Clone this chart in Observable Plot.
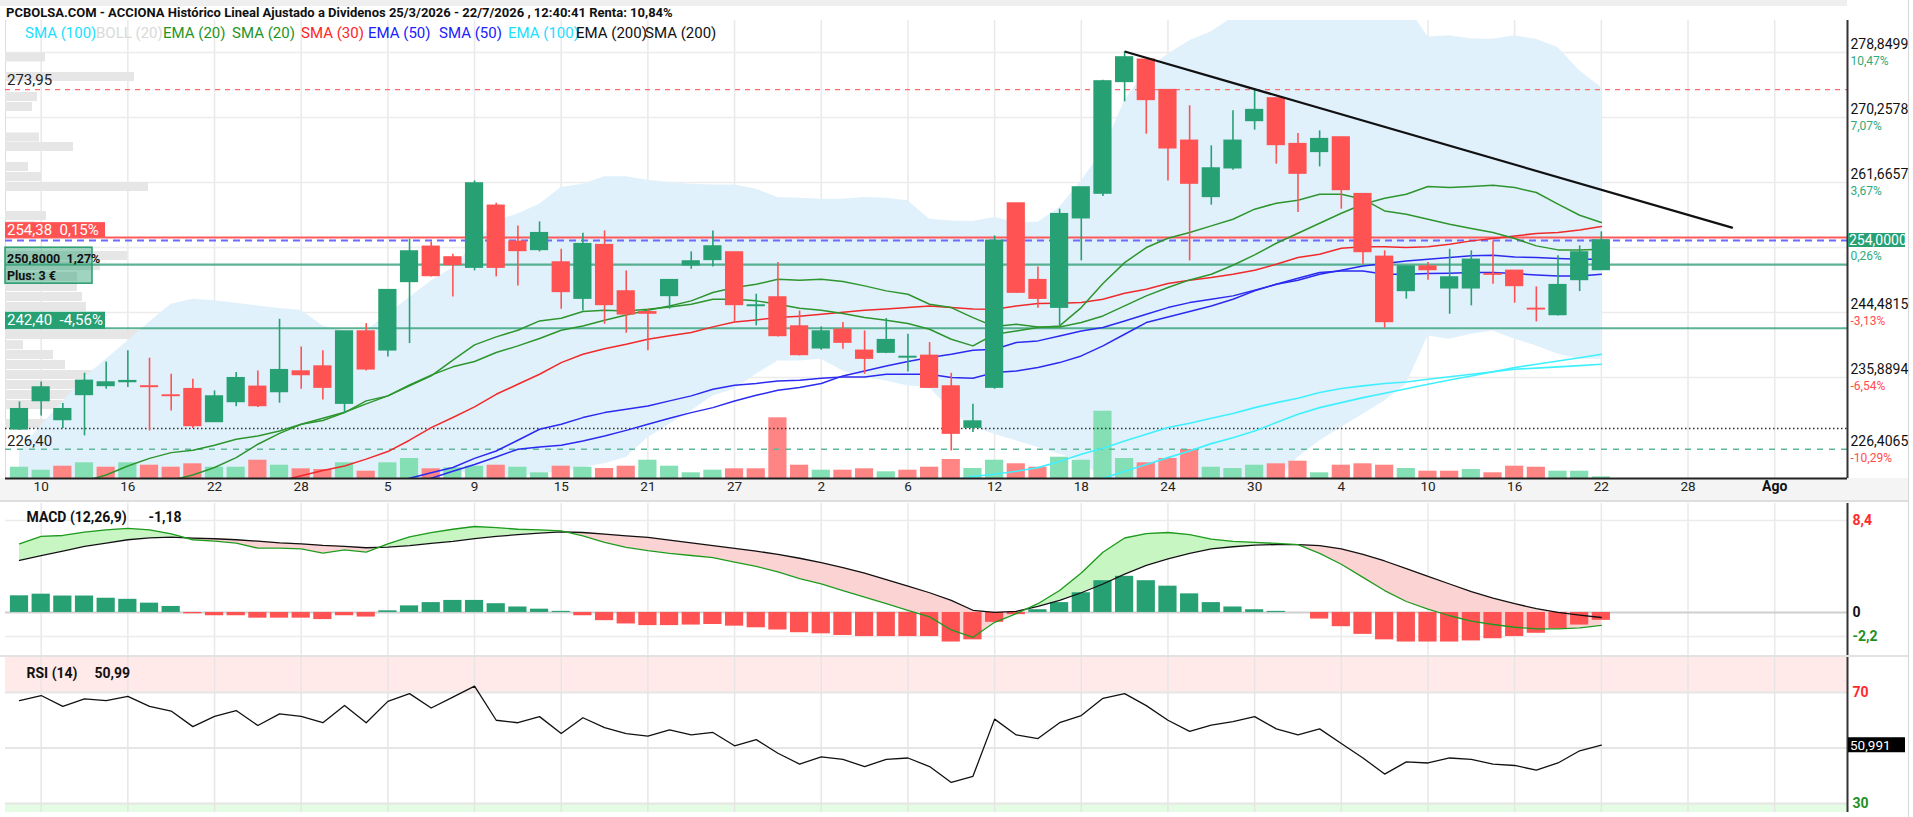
<!DOCTYPE html>
<html>
<head>
<meta charset="utf-8">
<script src="https://cdn.jsdelivr.net/npm/d3@7"></script>
<script src="https://cdn.jsdelivr.net/npm/@observablehq/plot@0.6"></script>
<style>
html,body{margin:0;padding:0;background:#fff;}
body{width:1913px;height:817px;overflow:hidden;font-family:Roboto,"Liberation Sans",Arial,sans-serif;}
#wrap{position:relative;width:1913px;height:817px;overflow:hidden;}
.abs{position:absolute;white-space:nowrap;}
.abs svg{display:block;}
</style>
</head>
<body>
<div id="wrap"></div>
<script>
// ---------------- DATA ----------------
const opens = [229.05,232.79,230.28,233.59,234.78,235.3,234.7,233.5,234.34,230.02,
  232.66,234.65,233.98,236.67,237.33,232.44,241.96,239.49,248.53,253.16,
  251.75,250.42,258.58,253.82,252.76,251.08,246.32,253.38,247.25,244.5,
  246.68,250.73,251.44,252.41,245.35,246.46,242.62,239.76,242.18,239.41,
  239.19,238.55,238.74,234.69,229.27,234.56,258.88,248.75,245.13,256.95,
  260.21,274.97,277.88,273.87,267.17,259.77,263.56,269.81,272.77,266.73,
  265.72,267.61,260.12,251.83,247.34,250.55,247.69,247.69,249.55,249.98,
  244.95,244.16,248.79,250.11];
const highs = [232.66,235.31,232.44,236.45,237.95,239.41,238.44,236.32,235.66,234.12,
  236.54,236.76,243.59,239.93,239.41,241.96,243.02,247.5,254.17,253.82,
  252.19,261.88,258.93,255.93,256.46,252.85,254.96,255.27,249.98,244.91,
  248.75,252.49,255.27,252.41,246.9,251.08,244.69,242.58,243.15,242.05,
  243.68,241.61,240.51,236.45,232.35,254.61,258.88,250.51,258.14,261.0,
  275.19,278.94,277.9,273.9,271.8,266.51,271.14,273.87,272.8,268.14,
  268.49,267.65,260.2,252.63,250.55,251.08,252.85,252.63,253.95,249.98,
  247.87,251.97,253.29,255.14];
const lows = [228.9,230.81,229.14,228.17,234.34,234.56,228.83,231.47,229.14,229.95,
  232.04,231.91,232.49,234.34,232.93,231.12,236.76,238.61,240.37,249.19,
  246.54,249.98,249.19,248.0,252.49,244.91,244.69,242.93,241.74,239.41,
  244.91,250.2,250.51,243.15,242.71,241.26,238.74,239.49,239.63,236.32,
  239.05,236.63,234.43,226.18,228.61,234.34,247.0,245.05,242.71,251.3,
  259.81,272.33,268.05,261.88,251.3,258.67,263.29,268.58,264.09,257.69,
  263.73,258.14,250.86,242.4,246.24,248.75,244.25,245.36,248.22,245.71,
  243.24,244.03,247.25,250.1];
const closes = [231.69,234.56,231.69,235.44,235.22,235.4,234.65,233.46,229.49,233.37,
  235.79,232.13,236.85,236.23,234.56,241.96,236.98,247.43,252.54,249.32,
  250.78,261.53,250.42,252.63,254.96,247.21,253.51,245.49,244.25,244.35,
  248.75,251.22,253.2,245.49,245.4,241.39,238.88,241.96,240.51,238.39,
  240.82,238.6,234.56,228.48,230.06,253.95,247.12,246.32,257.47,261.0,
  275.02,278.19,272.59,266.2,261.53,263.51,267.17,271.23,266.64,262.85,
  267.39,260.69,252.49,243.24,250.55,250.11,249.1,251.44,249.5,248.0,
  244.91,248.09,252.41,254.0];
const volume = [11.3,8.3,12.3,15.7,11.3,15.7,13.3,11.3,14.7,11.3,
  11.3,18.3,13.3,9.7,9,15.7,7.3,15.7,20,9.7,
  10.7,12.3,13.3,11.3,5.7,12.3,11.3,10,12.3,18.3,
  12.3,5.7,8.3,9.7,9.7,60.7,13.3,8.3,8.3,9.7,
  6.7,8.3,11.3,19,10,18.3,14.7,11.3,21.3,18.3,
  67.3,20,15.7,20,29,11.3,10,13.3,14.7,17.3,
  5.7,13.3,14.7,13.3,10,7.3,7.3,9,5.7,12.3,
  11.3,7.3,7.3,1.7];
const ema20 = [217.5,218.3,219.0,219.8,220.5,221.1,221.7,222.3,223.0,224.0,
  225.3,227.07,228.5,229.7,230.5,231.3,232.4,233.46,234.8,236.1,
  238.2,240.2,241.26,242.14,243.37,243.72,244.61,244.78,244.69,244.91,
  245.22,245.58,246.24,246.24,246.02,245.58,245.05,244.78,244.34,243.81,
  243.46,243.02,242.27,240.95,240.07,241.61,242.05,242.49,242.71,245.13,
  248.31,251.08,253.07,254.3,255.05,255.93,256.81,258.14,258.93,259.33,
  260.12,260.12,259.46,257.91,257.47,256.81,256.15,255.58,255.05,254.26,
  253.29,252.76,252.76,252.85];
const sma20 = [220.0,220.7,221.4,222.2,223.0,224.2,225.2,225.96,226.27,226.93,
  227.72,228.17,228.83,229.7,230.2,231.25,232.8,233.46,234.9,236.2,
  237.3,238.0,239.19,240.07,241.04,242.14,242.71,243.46,244.16,244.78,
  245.35,246.02,247.12,247.78,248.22,248.88,248.75,248.88,248.57,248.0,
  247.34,246.9,245.58,245.13,243.81,242.62,242.93,242.58,242.58,243.15,
  244.03,245.35,246.68,247.78,248.79,249.54,250.73,252.1,253.64,254.96,
  256.28,257.6,258.8,259.59,260.12,261.13,261.0,261.13,261.31,261.0,
  260.34,258.8,257.34,256.37];
const sma30 = [214.5,215.2,215.9,216.6,217.3,218.0,218.6,219.2,219.8,220.4,
  221.0,221.6,222.2,222.9,223.6,224.2,225.1,226.1,227.6,229.27,
  230.6,232.0,233.67,235.0,236.32,237.86,238.97,239.7,240.29,240.95,
  241.4,241.83,242.58,243.24,243.5,243.81,244.0,244.25,244.5,244.78,
  244.95,245.13,245.35,245.13,244.95,244.91,245.35,245.66,245.72,245.79,
  246.24,247.03,247.56,248.31,248.75,249.1,249.54,250.07,250.86,251.75,
  252.19,252.98,253.16,253.16,253.07,253.16,253.51,253.95,254.26,254.61,
  254.92,255.05,255.4,255.84];
const sma50 = [null,null,null,null,null,null,null,null,null,null,
  null,null,null,null,null,null,null,222.0,222.57,223.3,
  224.0,225.2,226.18,227.6,229.05,229.71,230.59,231.25,231.7,232.13,
  232.8,233.46,234.34,234.87,235.09,235.44,235.53,235.79,235.97,235.97,
  236.32,236.32,236.32,235.88,235.79,236.54,236.76,237.2,237.86,238.74,
  240.07,241.61,243.15,243.9,244.61,245.35,246.24,247.34,248.22,249.01,
  249.76,249.98,249.98,249.54,249.54,249.63,249.68,249.76,249.76,249.63,
  249.45,249.32,249.32,249.54];
const ema50 = [null,null,null,null,null,null,null,null,null,null,
  null,null,null,null,null,null,null,null,222.0,222.57,
  223.5,224.4,225.39,226.4,226.7,226.93,227.51,228.17,228.9,229.71,
  230.5,231.25,231.91,232.79,233.54,234.2,234.56,235.09,236.1,236.76,
  237.42,238.0,238.52,238.97,239.49,239.63,240.51,240.73,241.39,242.05,
  242.49,243.37,244.25,245.13,245.79,246.24,246.68,247.43,248.22,248.75,
  249.54,250.07,250.64,250.95,251.3,251.52,251.75,251.97,252.05,251.83,
  251.75,251.61,251.52,251.52];
const sma100 = [null,null,null,null,null,null,null,null,null,null,
  null,null,null,null,null,null,null,null,null,null,
  null,null,null,null,null,null,null,null,null,null,
  null,null,null,null,null,null,null,null,null,null,
  null,null,null,222.3,222.8,223.1,223.5,223.98,224.8,225.74,
  226.54,227.51,228.39,229.27,229.84,230.5,231.12,231.91,232.57,233.15,
  233.9,234.43,234.78,235.09,235.3,235.66,236.0,236.32,236.65,236.98,
  237.13,237.29,237.46,237.64];
const ema100 = [null,null,null,null,null,null,null,null,null,null,
  null,null,null,null,null,null,null,null,null,null,
  null,null,null,null,null,null,null,null,null,null,
  null,null,null,null,null,null,null,null,null,null,
  null,null,null,null,null,null,null,null,null,221.8,
  222.57,223.5,224.4,225.3,226.18,227.15,227.94,228.83,229.93,231.03,
  231.91,232.57,233.23,233.8,234.4,235.0,235.55,236.1,236.65,237.2,
  237.65,238.08,238.5,238.97];
const bbUpper = [226.18,229.5,232.7,235.88,238.3,240.73,243.2,245.58,246.24,246.02,
  245.7,245.35,245.0,244.78,242.71,242.05,242.05,244.25,246.46,248.66,
  250.4,253.5,256.59,257.5,258.8,261.0,261.44,262.41,262.41,261.97,
  261.66,261.44,261.35,261.35,260.78,259.68,259.59,259.46,259.46,259.68,
  259.59,259.24,256.81,256.59,256.5,257.03,256.37,256.4,258.36,261.88,
  265.85,272.46,276.43,278.63,280.4,281.6,283.5,284.7,285.3,284.6,
  285.1,285.9,286.6,286.4,285.2,280.9,281.05,280.65,280.6,281.05,
  280.6,279.5,276.43,274.22];
const bbLower = [213.8,213.5,213.0,212.5,212.0,211.5,211.0,210.5,210.5,211.0,
  211.5,212.0,212.5,213.5,217.5,219.5,221.5,221.0,221.5,222.0,
  224.2,222.5,221.8,222.6,223.3,223.3,224.0,224.5,225.3,227.94,
  229.71,231.47,233.46,234.34,236.32,238.08,238.08,238.3,236.76,235.88,
  235.44,234.78,234.56,231.47,229.27,228.39,227.51,226.63,225.74,224.86,
  222.5,218.2,216.9,216.9,217.2,217.5,218.0,219.5,222.0,225.3,
  227.5,229.27,231.03,232.79,235.0,241.39,240.95,241.61,242.05,240.95,
  240.07,238.97,238.3,238.3];
const macdLine = [6.27,6.94,7.03,7.33,7.55,7.67,7.55,7.18,6.64,6.51,
  6.33,5.87,5.87,5.81,5.42,5.72,5.51,6.27,6.9,7.3,
  7.6,7.85,7.75,7.6,7.55,7.45,7.0,6.4,5.95,5.65,
  5.4,5.2,5.0,4.6,4.2,3.7,3.1,2.6,2.0,1.4,
  0.8,0.2,-0.4,-1.6,-2.27,-0.9,-0.1,0.8,2.0,3.6,
  5.5,6.8,7.2,7.3,7.1,6.7,6.5,6.4,6.3,6.2,
  5.4,4.4,3.2,2.0,1.0,0.3,-0.3,-0.8,-1.1,-1.35,
  -1.5,-1.5,-1.4,-1.18];
const macdSignal = [4.75,5.2,5.6,6.03,6.33,6.64,6.82,6.88,6.79,6.73,
  6.64,6.51,6.36,6.27,6.12,6.03,5.91,5.97,6.1,6.3,
  6.5,6.75,6.95,7.1,7.25,7.35,7.3,7.15,7.0,6.85,
  6.6,6.35,6.1,5.85,5.6,5.3,4.95,4.55,4.1,3.6,
  3.0,2.4,1.8,1.1,0.2,0.0,0.1,0.55,1.1,1.8,
  2.6,3.5,4.3,4.9,5.4,5.8,6.0,6.15,6.2,6.2,
  6.1,5.8,5.3,4.7,4.0,3.3,2.6,1.9,1.3,0.8,
  0.35,0.0,-0.25,-0.46];
const macdHist = [1.52,1.67,1.5,1.5,1.3,1.2,0.85,0.55,-0.12,-0.3,
  -0.3,-0.52,-0.52,-0.52,-0.65,-0.3,-0.42,0.15,0.6,0.9,
  1.1,1.1,0.8,0.5,0.3,0.1,-0.3,-0.75,-1.05,-1.2,
  -1.2,-1.15,-1.1,-1.25,-1.4,-1.6,-1.85,-1.95,-2.1,-2.2,
  -2.2,-2.2,-2.2,-2.7,-2.5,-0.9,-0.2,0.25,0.9,1.8,
  2.9,3.3,2.9,2.4,1.7,0.9,0.5,0.25,0.1,0.0,
  -0.6,-1.3,-2.0,-2.5,-2.7,-2.7,-2.7,-2.6,-2.4,-2.2,
  -1.9,-1.5,-1.15,-0.72];
const rsi = [67.1,68.9,65.0,67.7,67.1,68.6,65.0,63.3,57.7,61.4,
  63.5,58.1,62.3,61.4,59.1,65.3,59.1,66.8,69.6,64.4,
  68.3,72.3,60.0,59.1,61.3,55.2,60.9,57.35,55.2,54.3,
  56.5,54.7,55.6,50.8,53.0,48.1,44.2,46.8,45.9,43.3,
  45.9,46.4,43.3,37.6,39.8,60.4,54.7,53.4,59.1,61.7,
  67.9,69.6,65.25,60.0,56.0,58.2,59.5,61.3,56.9,54.7,
  56.9,51.6,46.4,40.6,45.0,44.6,46.4,45.9,44.2,43.7,
  42.0,44.6,49.0,50.99];
// volume-profile (left side): price levels and lengths
const profPrice = [278.19,275.61,272.97,271.65,267.61,266.36,263.72,262.39,261.07,257.24,255.9,
  251.95,250.63,249.18,247.85,246.53,245.2,243.88,241.5,240.17,238.86,237.54,236.22,234.89,233.57,232.25,229.74];
const profVol = [40,129,32,27,34,68,23,36,143,41,30,122,95,72,72,77,81,60,184,18,48,60,97,116,81,81,48];
// axis ticks / labels
const tickIndex = [1,5,9,13,17,21,25,29,33,37,41,45,49,53,57,61,65,69,73,77,81];
const tickLabels = ["10","16","22","28","5","9","15","21","27","2","6","12","18","24","30","4","10","16","22","28","Ago"];
const axisPrices = [278.8499,270.2578,261.6657,253.0736,244.4815,235.8894,226.4065];
const axisPriceText = ["278,8499","270,2578","261,6657",null,"244,4815","235,8894","226,4065"];
const axisPctText = ["10,47%","7,07%","3,67%","0,26%","-3,13%","-6,54%","-10,29%"];
const gridPrices = [278.8499,270.2578,261.6657,253.0736,244.4815,235.8894];
const levelPrices = {resist: 273.95, prevRef: 254.38, last: 254.0, buy: 250.80, stop: 242.40, dotted: 229.15, support: 226.40};
const trendIdx = [51.04, 79.03];
const trendPrice = [278.95, 255.7];
const legendNames = ["SMA (100)","BOLL (20)","EMA (20)","SMA (20)","SMA (30)","EMA (50)","SMA (50)","EMA (100)","EMA (200)","SMA (200)"];
const legendColors = ["#19e0ff","#d9d9d9","#1f951f","#1f951f","#ff2424","#2020ff","#2020ff","#19e0ff","#111","#111"];
const titleText = "PCBOLSA.COM - ACCIONA Histórico Lineal Ajustado a Dividenos 25/3/2026 - 22/7/2026 , 12:40:41 Renta: 10,84%";

// ---------------- LAYOUT ----------------
const FONT = "Roboto, 'Liberation Sans', Arial, sans-serif";
const GREEN = "#27a074", RED = "#ff5252";
const W = 1913, ML = 5, MR = 66;
const X0 = -0.646, X1 = 84.36;
const Y0 = 222.54, Y1 = 283.08;
const MH = 500, MT = 20, MB = 22;
const innerH = MH - MT - MB;
const pxW = (W - ML - MR) / (X1 - X0);
const pricePerPx = (Y1 - Y0) / innerH;
const v2p = v => Y0 + v * pricePerPx;
const N = closes.length;
const idx = d3.range(N);
const candles = idx.map(i => ({i, o: opens[i], h: highs[i], l: lows[i], c: closes[i], v: volume[i],
  up: closes[i] >= opens[i], vUp: i === 0 || closes[i] >= closes[i - 1]}));
const HB = 0.42;

const wrap = document.getElementById("wrap");
function addDiv(style, html) {
  const d = document.createElement("div"); d.className = "abs";
  Object.assign(d.style, style); if (html != null) d.innerHTML = html;
  wrap.appendChild(d); return d;
}
addDiv({left:"0px", top:"0px", width:"1847px", height:"6px", background:"#efefef"});
addDiv({left:"0px", top:"478px", width:"1908px", height:"22px", background:"#f4f4f4"});
addDiv({left:"0px", top:"500px", width:"1908px", height:"2px", background:"#dedede"});
addDiv({left:"0px", top:"655px", width:"1908px", height:"2px", background:"#e2e2e2"});
addDiv({left:"1908px", top:"0px", width:"1px", height:"817px", background:"#d8d8d8"});

function lineMark(arr, color, w) {
  return Plot.line(idx.filter(i => arr[i] != null), {x: i => i, y: i => arr[i], stroke: color, strokeWidth: w || 1.5, clip: true});
}
function gStart() {
  return d3.create("svg:g").attr("font-family", FONT).attr("text-anchor", "start");
}

function leftLabels(index, scales, values, dims) {
  const y = scales.y, L = dims.marginLeft;
  const g = gStart();
  g.append("text").attr("x", L + 2).attr("y", y(levelPrices.resist) - 4).attr("font-size", 15).attr("fill", "#222").text("273,95");
  const yr = y(levelPrices.prevRef);
  g.append("rect").attr("x", L).attr("y", yr - 15).attr("width", 100).attr("height", 15).attr("fill", "#ff5252");
  g.append("text").attr("x", L + 2).attr("y", yr - 2.5).attr("font-size", 15).attr("fill", "#fff").attr("xml:space","preserve").text("254,38  0,15%");
  const yb = y(levelPrices.buy);
  g.append("rect").attr("x", L).attr("y", yb - 17).attr("width", 87).attr("height", 36).attr("fill", "rgba(39,160,116,0.45)").attr("stroke", "#2a9d70").attr("stroke-width", 1.5);
  g.append("text").attr("x", L + 2).attr("y", yb - 1).attr("font-size", 12.5).attr("font-weight", "bold").attr("fill", "#111").attr("xml:space","preserve").text("250,8000  1,27%");
  g.append("text").attr("x", L + 2).attr("y", yb + 16).attr("font-size", 12.5).attr("font-weight", "bold").attr("fill", "#111").text("Plus: 3 €");
  const ys = y(levelPrices.stop);
  g.append("rect").attr("x", L).attr("y", ys - 16).attr("width", 100).attr("height", 17).attr("fill", "#27a074");
  g.append("text").attr("x", L + 2).attr("y", ys - 2.5).attr("font-size", 15).attr("fill", "#fff").attr("xml:space","preserve").text("242,40  -4,56%");
  g.append("text").attr("x", L + 2).attr("y", y(levelPrices.support) - 3).attr("font-size", 15).attr("fill", "#222").text("226,40");
  return g.node();
}
function lastPriceBox(index, scales, values, dims) {
  const y = scales.y, R = dims.width - dims.marginRight;
  const g = gStart();
  const yl = y(levelPrices.last);
  g.append("rect").attr("x", R + 1).attr("y", yl - 7).attr("width", 57).attr("height", 14).attr("fill", GREEN);
  g.append("text").attr("x", R + 2).attr("y", yl + 5).attr("font-size", 14).attr("fill", "#fff").text("254,0000");
  return g.node();
}

const axIdx = d3.range(axisPrices.length);
const main = Plot.plot({
  width: W, height: MH, marginTop: MT, marginBottom: MB, marginLeft: ML, marginRight: MR,
  style: {background: "transparent", overflow: "visible", fontFamily: FONT},
  x: {domain: [X0, X1], axis: null},
  y: {domain: [Y0, Y1], axis: null},
  marks: [
    Plot.ruleX(tickIndex, {stroke: "#e9e9e9", strokeWidth: 1.5}),
    Plot.ruleY(gridPrices, {stroke: "#ececec", strokeWidth: 1.5}),
    Plot.ruleX([X0], {stroke: "#dddddd"}),
    Plot.rect(d3.range(profPrice.length), {x1: () => X0, x2: k => X0 + profVol[k] / pxW,
      y1: k => profPrice[k] - 4.5 * pricePerPx, y2: k => profPrice[k] + 4.5 * pricePerPx, fill: "#e6e6e6"}),
    Plot.areaY(idx, {x: i => i, y1: i => bbLower[i], y2: i => bbUpper[i], fill: "#e1f1fc", clip: true}),
    Plot.rect(candles, {x1: d => d.i - HB, x2: d => d.i + HB, y1: () => Y0, y2: d => v2p(d.v), fill: d => d.vUp ? "#84e0b4" : "#ff8585"}),
    Plot.ruleY([levelPrices.resist], {stroke: "#ff6b6b", strokeDasharray: "5,5", strokeWidth: 1.3}),
    Plot.ruleY([levelPrices.prevRef], {stroke: "#ff5a5a", strokeWidth: 2}),
    Plot.ruleY([levelPrices.last], {stroke: "#6a6aff", strokeDasharray: "7,5", strokeWidth: 2}),
    Plot.ruleY([levelPrices.buy], {stroke: "#3fa57f", strokeWidth: 2.2, strokeOpacity: 0.85}),
    Plot.ruleY([levelPrices.stop], {stroke: "#3fa57f", strokeWidth: 2.2, strokeOpacity: 0.85}),
    Plot.ruleY([levelPrices.dotted], {stroke: "#333", strokeDasharray: "1.5,2.5", strokeWidth: 1.5}),
    Plot.ruleY([levelPrices.support], {stroke: "#5fb89a", strokeDasharray: "6,6", strokeWidth: 1.5}),
    lineMark(sma100, "#3ff0ff", 1.6),
    lineMark(ema100, "#3ff0ff", 1.6),
    lineMark(sma50, "#2a2af0", 1.5),
    lineMark(ema50, "#2a2af0", 1.5),
    lineMark(sma30, "#f02a2a", 1.5),
    lineMark(sma20, "#2d952d", 1.5),
    lineMark(ema20, "#2d952d", 1.5),
    Plot.ruleX(candles, {x: "i", y1: "l", y2: "h", stroke: d => d.up ? GREEN : RED, strokeWidth: 1.6}),
    Plot.rect(candles, {x1: d => d.i - HB, x2: d => d.i + HB, y1: d => Math.min(d.o, d.c), y2: d => Math.max(d.o, d.c),
      fill: d => d.up ? GREEN : RED, insetTop: -0.8, insetBottom: -0.8}),
    Plot.line(d3.range(2), {x: k => trendIdx[k], y: k => trendPrice[k], stroke: "#111", strokeWidth: 2.2}),
    leftLabels,
    Plot.ruleY([Y0], {stroke: "#222", strokeWidth: 2}),
    Plot.ruleX([X1], {stroke: "#333", strokeWidth: 2}),
    Plot.text(axIdx.filter(k => axisPriceText[k]), {x: () => X1, y: k => axisPrices[k], text: k => axisPriceText[k],
      dx: 3, dy: -8, textAnchor: "start", fontSize: 14, fill: "#111"}),
    Plot.text(axIdx, {x: () => X1, y: k => axisPrices[k], text: k => axisPctText[k],
      dx: 3, dy: 9, textAnchor: "start", fontSize: 12, fill: k => axisPctText[k].startsWith("-") ? "#ff4d4d" : "#2faa7d"}),
    lastPriceBox,
    Plot.text(d3.range(tickIndex.length).filter(k => !isNaN(+tickLabels[k])), {x: k => tickIndex[k], text: k => tickLabels[k],
      frameAnchor: "bottom", dy: 12, fontSize: 13.5, fill: "#222"}),
    Plot.text(d3.range(tickIndex.length).filter(k => isNaN(+tickLabels[k])), {x: k => tickIndex[k], text: k => tickLabels[k],
      frameAnchor: "bottom", dy: 12, fontSize: 14, fontWeight: "bold", fill: "#111"})
  ]
});

// MACD fill split at crossings
function splitFill(a, b) {
  const up = [], dn = [];
  for (let i = 0; i < a.length; i++) {
    up.push({x: i, y1: b[i], y2: Math.max(a[i], b[i])});
    dn.push({x: i, y1: b[i], y2: Math.min(a[i], b[i])});
    if (i < a.length - 1) {
      const d1 = a[i] - b[i], d2 = a[i + 1] - b[i + 1];
      if (d1 * d2 < 0) {
        const t = d1 / (d1 - d2), yc = b[i] + t * (b[i + 1] - b[i]);
        up.push({x: i + t, y1: yc, y2: yc}); dn.push({x: i + t, y1: yc, y2: yc});
      }
    }
  }
  return {up, dn};
}
const fills = splitFill(macdLine, macdSignal);
const macdTicks = [8.4, 0, -2.2];
const macdTickText = ["8,4", "0", "-2,2"];
const macdTickColor = ["#ff2a2a", "#111", "#1f8f1f"];
const macd = Plot.plot({
  width: W, height: 157, marginTop: 3, marginBottom: 2, marginLeft: ML, marginRight: MR,
  style: {background: "transparent", overflow: "visible", fontFamily: FONT},
  x: {domain: [X0, X1], axis: null},
  y: {domain: [-3.93, 9.95], axis: null},
  marks: [
    Plot.ruleX(tickIndex, {stroke: "#e9e9e9", strokeWidth: 1.5}),
    Plot.ruleY([8.4, -2.2], {stroke: "#ececec", strokeWidth: 1.5}),
    Plot.ruleY([0], {stroke: "#cfcfcf", strokeWidth: 2}),
    Plot.areaY(fills.up, {x: "x", y1: "y1", y2: "y2", fill: "#c8f6c3"}),
    Plot.areaY(fills.dn, {x: "x", y1: "y1", y2: "y2", fill: "#fbd3d3"}),
    Plot.rect(idx, {x1: i => i - HB, x2: i => i + HB, y1: () => 0, y2: i => macdHist[i], fill: i => macdHist[i] >= 0 ? GREEN : RED}),
    Plot.line(idx, {x: i => i, y: i => macdSignal[i], stroke: "#111", strokeWidth: 1.3}),
    Plot.line(idx, {x: i => i, y: i => macdLine[i], stroke: "#1f9a1f", strokeWidth: 1.3}),
    Plot.ruleX([X1], {stroke: "#333", strokeWidth: 2}),
    Plot.text(d3.range(3), {x: () => X1, y: k => macdTicks[k], text: k => macdTickText[k], dx: 5, textAnchor: "start",
      fontSize: 14, fontWeight: "bold", fill: k => macdTickColor[k]}),
    Plot.text(["MACD (12,26,9)"], {frameAnchor: "top-left", dx: 21, dy: 9, fontSize: 14, fontWeight: "bold", fill: "#111", text: d => d, textAnchor: "start"}),
    Plot.text(["-1,18"], {frameAnchor: "top-left", dx: 143, dy: 9, fontSize: 14, fontWeight: "bold", fill: "#111", text: d => d, textAnchor: "start"})
  ]
});

const RL = 26.76, RH = 82.6;
const rsiPlot = Plot.plot({
  width: W, height: 160, marginTop: 0, marginBottom: 5, marginLeft: ML, marginRight: MR,
  style: {background: "transparent", overflow: "visible", fontFamily: FONT},
  x: {domain: [X0, X1], axis: null},
  y: {domain: [RL, RH], axis: null},
  marks: [
    Plot.rect([0], {x1: () => X0, x2: () => X1, y1: () => 70, y2: () => RH, fill: "#ffe9e9"}),
    Plot.rect([0], {x1: () => X0, x2: () => X1, y1: () => RL, y2: () => 30, fill: "#e4fbe4"}),
    Plot.ruleX(tickIndex, {stroke: "#e6e6e6", strokeWidth: 1.5}),
    Plot.ruleY([70, 50, 30], {stroke: "#e6e6e6", strokeWidth: 2}),
    Plot.line(idx, {x: i => i, y: i => rsi[i], stroke: "#111", strokeWidth: 1.3}),
    Plot.ruleX([X1], {stroke: "#333", strokeWidth: 2}),
    Plot.text([70, 30], {x: () => X1, y: d => d, text: d => String(d), dx: 5, textAnchor: "start", fontSize: 14, fontWeight: "bold",
      fill: d => d === 70 ? "#ff2a2a" : "#1f8f1f"}),
    (index, scales, values, dims) => {
      const y = scales.y, R = dims.width - dims.marginRight;
      const g = gStart();
      const yv = y(rsi[N - 1]);
      g.append("rect").attr("x", R + 1).attr("y", yv - 7.5).attr("width", 57).attr("height", 15).attr("fill", "#000");
      g.append("text").attr("x", R + 3).attr("y", yv + 5).attr("font-size", 13.5).attr("fill", "#fff").text("50,991");
      return g.node();
    },
    Plot.text(["RSI (14)"], {frameAnchor: "top-left", dx: 21, dy: 11, fontSize: 14, fontWeight: "bold", fill: "#111", text: d => d, textAnchor: "start"}),
    Plot.text(["50,99"], {frameAnchor: "top-left", dx: 89, dy: 11, fontSize: 14, fontWeight: "bold", fill: "#111", text: d => d, textAnchor: "start"})
  ]
});

function place(node, top) { const d = addDiv({left: "0px", top: top + "px"}); d.appendChild(node); }
place(main, 0);
place(macd, 500);
place(rsiPlot, 657);

addDiv({left: "6px", top: "5px", fontSize: "13px", fontWeight: "bold", color: "#111", lineHeight: "16px"}, titleText);
const legendX = [25, 96, 163, 232, 301, 368, 439, 508, 576, 645];
legendNames.forEach((n, k) => {
  addDiv({left: legendX[k] + "px", top: "24px", fontSize: "15px", color: legendColors[k], lineHeight: "18px"}, n);
});
</script>
</body>
</html>
